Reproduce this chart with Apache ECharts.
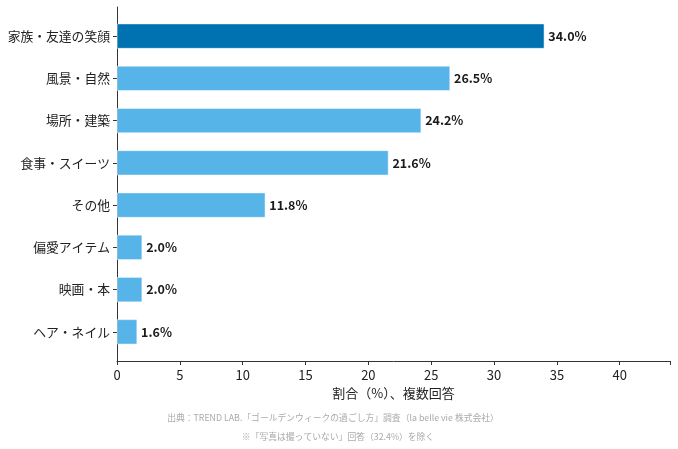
<!DOCTYPE html>
<html><head><meta charset="utf-8">
<script src="https://cdn.jsdelivr.net/npm/echarts@6/dist/echarts.min.js"></script>
<style>html,body{margin:0;padding:0;background:#fff}#c{width:678px;height:449px}</style>
</head><body><div id="c"></div>
<script>
const categories = ['家族・友達の笑顔','風景・自然','場所・建築','食事・スイーツ','その他','偏愛アイテム','映画・本','ヘア・ネイル'];
const values = [34.0, 26.5, 24.2, 21.6, 11.8, 2.0, 2.0, 1.6];
const xTicks = [0,5,10,15,20,25,30,35,40];
const axisName = '割合（%）、複数回答';
const sourceText = '出典：TREND LAB.「ゴールデンウィークの過ごし方」調査（la belle vie 株式会社）';
const noteText = '※「写真は撮っていない」回答（32.4%）を除く';

const font = '"Noto Sans CJK JP", "Noto Sans", sans-serif';
const chart = echarts.init(document.getElementById('c'));
chart.setOption({
  animation: false,
  textStyle: {fontFamily: font},
  grid: [
    {left: 117, right: 8, top: 15, bottom: 96, containLabel: false},
    {left: 117, right: 8, top: 7, bottom: 88, containLabel: false}
  ],
  xAxis: [{
    type: 'value', gridIndex: 0, min: 0, max: 44, interval: 5, offset: 8,
    axisLine: {show: true, lineStyle: {color: '#333', width: 1}},
    axisTick: {show: true, length: 4, lineStyle: {color: '#333'}},
    splitLine: {show: false},
    axisLabel: {color: '#222', fontSize: 13, margin: 8, fontFamily: font,
      formatter: v => xTicks.includes(v) ? String(v) : ''},
    name: axisName, nameLocation: 'middle', nameGap: 25,
    nameTextStyle: {color: '#222', fontSize: 13, fontFamily: font}
  }, {
    type: 'value', gridIndex: 1, min: 0, max: 44, show: false
  }],
  yAxis: [{
    type: 'category', gridIndex: 0, data: categories, inverse: true,
    axisLine: {show: false},
    axisTick: {show: true, length: 4, alignWithLabel: true, lineStyle: {color: '#333'}},
    axisLabel: {color: '#222', fontSize: 12.8, margin: 7, fontFamily: font}
  }, {
    type: 'value', gridIndex: 1, min: 0, max: 1,
    axisLine: {show: true, lineStyle: {color: '#333', width: 1}},
    axisTick: {show: false}, axisLabel: {show: false}, splitLine: {show: false}
  }],
  series: [{
    type: 'bar', xAxisIndex: 0, yAxisIndex: 0, barWidth: '59%',
    data: values.map((v, i) => ({value: v, itemStyle: {color: i === 0 ? '#0072B2' : '#56B4E9'}})),
    itemStyle: {borderColor: '#fff', borderWidth: 0.5},
    label: {show: true, position: 'right', distance: 4, color: '#1a1a1a', fontWeight: 'bold', fontSize: 12.5,
      fontFamily: font, formatter: p => p.value.toFixed(1) + '%'}
  }],
  graphic: [
    {type: 'text', x: 333, y: 413, style: {text: sourceText, fill: '#aaa', fontSize: 8.8, fontFamily: font, align: 'center'}},
    {type: 'text', x: 338, y: 432, style: {text: noteText, fill: '#aaa', fontSize: 8.8, fontFamily: font, align: 'center'}}
  ]
});
</script></body></html>
